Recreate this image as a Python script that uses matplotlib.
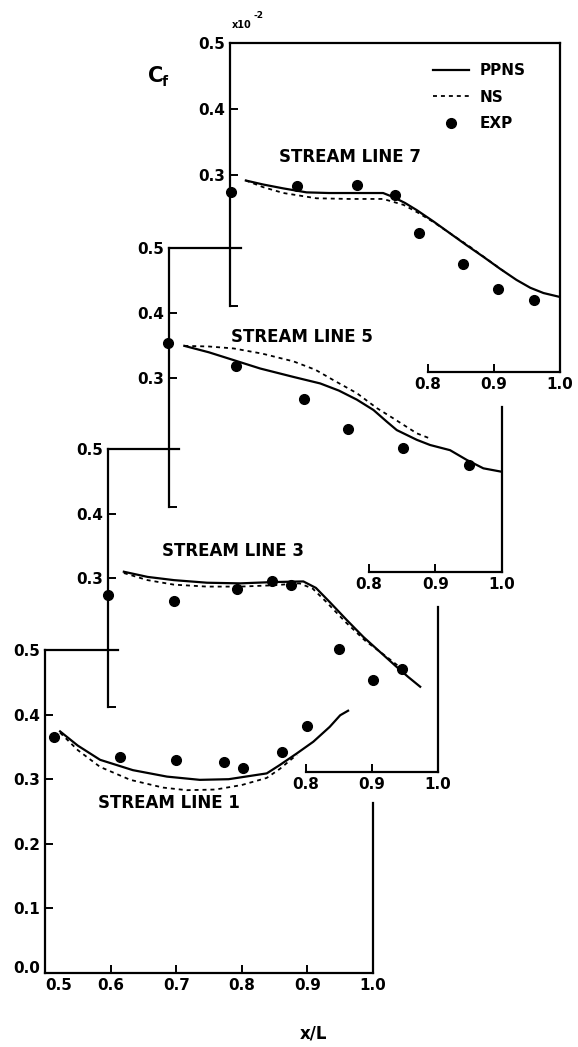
import matplotlib
matplotlib.use("Agg")
import matplotlib.pyplot as plt

# skin friction along four stream lines, Cf x 10^-2 against x/L
ppns1_x = [0.523, 0.55, 0.584, 0.634, 0.686, 0.736, 0.78, 0.838, 0.858, 0.884, 0.909, 0.934, 0.950, 0.962]
ppns1_y = [0.374, 0.352, 0.330, 0.314, 0.304, 0.299, 0.300, 0.309, 0.322, 0.340, 0.358, 0.381, 0.399, 0.406]
ns1_x = [0.523, 0.55, 0.584, 0.63, 0.68, 0.716, 0.76, 0.80, 0.838, 0.858, 0.884]
ns1_y = [0.372, 0.345, 0.319, 0.299, 0.287, 0.283, 0.284, 0.291, 0.302, 0.316, 0.338]
exp1_x = [0.513, 0.614, 0.699, 0.773, 0.802, 0.861, 0.899]
exp1_y = [0.366, 0.334, 0.330, 0.326, 0.318, 0.342, 0.382]

ppns3_x = [0.524, 0.56, 0.60, 0.65, 0.70, 0.75, 0.796, 0.815, 0.836, 0.862, 0.887, 0.912, 0.937, 0.955, 0.973]
ppns3_y = [0.310, 0.302, 0.297, 0.293, 0.292, 0.294, 0.295, 0.285, 0.263, 0.235, 0.209, 0.186, 0.163, 0.147, 0.132]
ns3_x = [0.524, 0.56, 0.60, 0.65, 0.70, 0.75, 0.79, 0.81, 0.83, 0.86, 0.89, 0.92, 0.945]
ns3_y = [0.308, 0.297, 0.290, 0.287, 0.287, 0.289, 0.292, 0.284, 0.264, 0.232, 0.203, 0.180, 0.160]
exp3_x = [0.500, 0.600, 0.695, 0.748, 0.777, 0.850, 0.902, 0.945]
exp3_y = [0.274, 0.264, 0.283, 0.295, 0.289, 0.190, 0.143, 0.159]

ppns5_x = [0.523, 0.56, 0.597, 0.637, 0.687, 0.727, 0.755, 0.782, 0.807, 0.827, 0.842, 0.872, 0.892, 0.922, 0.947, 0.972, 0.998]
ppns5_y = [0.349, 0.339, 0.327, 0.314, 0.301, 0.291, 0.280, 0.266, 0.250, 0.232, 0.219, 0.204, 0.196, 0.188, 0.173, 0.160, 0.155]
ns5_x = [0.523, 0.56, 0.597, 0.64, 0.687, 0.72, 0.747, 0.782, 0.812, 0.837, 0.872, 0.892]
ns5_y = [0.349, 0.348, 0.345, 0.337, 0.325, 0.312, 0.296, 0.276, 0.253, 0.237, 0.214, 0.206]
exp5_x = [0.499, 0.600, 0.702, 0.769, 0.852, 0.950]
exp5_y = [0.353, 0.318, 0.267, 0.221, 0.192, 0.165]

ppns7_x = [0.524, 0.55, 0.581, 0.616, 0.65, 0.682, 0.732, 0.747, 0.765, 0.783, 0.808, 0.833, 0.858, 0.884, 0.909, 0.934, 0.955, 0.975, 1.0]
ppns7_y = [0.291, 0.285, 0.279, 0.273, 0.272, 0.272, 0.272, 0.266, 0.257, 0.246, 0.229, 0.211, 0.193, 0.175, 0.157, 0.140, 0.128, 0.120, 0.114]
ns7_x = [0.524, 0.55, 0.581, 0.631, 0.68, 0.732, 0.763, 0.785, 0.808, 0.836, 0.864, 0.89, 0.915]
ns7_y = [0.291, 0.281, 0.272, 0.264, 0.263, 0.263, 0.254, 0.242, 0.228, 0.209, 0.190, 0.171, 0.153]
exp7_x = [0.501, 0.601, 0.693, 0.750, 0.787, 0.853, 0.906, 0.961]
exp7_y = [0.274, 0.282, 0.284, 0.269, 0.211, 0.164, 0.126, 0.109]

front_xticks = [0.5, 0.6, 0.7, 0.8, 0.9, 1.0]
front_yticks = [0.0, 0.1, 0.2, 0.3, 0.4, 0.5]
back_xticks = [0.8, 0.9, 1.0]
back_yticks = [0.1, 0.3, 0.4, 0.5]
back_ylabels = ['', '0.3', '0.4', '0.5']

plt.rcParams['font.family'] = 'DejaVu Sans'
plt.rcParams['font.weight'] = 'bold'

W, H = 578, 1047
fig = plt.figure(figsize=(W / 100, H / 100), dpi=100)


def panel(x0, x1, ybot, ytop):
    ax = fig.add_axes([x0 / W, 1 - ybot / H, (x1 - x0) / W, (ybot - ytop) / H])
    ax.set_xlim(0.5, 1.0)
    ax.set_ylim(0.0, 0.5)
    ax.patch.set_visible(False)
    for sp in ax.spines.values():
        sp.set_linewidth(1.6)
        sp.set_capstyle('projecting')
    ax.tick_params(direction='in', length=6, width=1.4, labelsize=11, pad=3.5,
                   top=False, right=False)
    return ax


def staggered(ax, top_full=False):
    ax.spines['left'].set_bounds(0.1, 0.5)
    ax.spines['bottom'].set_bounds(0.8, 1.0)
    if not top_full:
        ax.spines['top'].set_bounds(0.5, 0.608)
        ax.spines['right'].set_bounds(0.0, 0.255)
    ax.set_xticks(back_xticks, ['0.8', '0.9', '1.0'])
    ax.set_yticks(back_yticks, back_ylabels)


def curves(ax, px, py, nx, ny, ex, ey):
    l1, = ax.plot(px, py, color='black', lw=1.6)
    l2, = ax.plot(nx, ny, color='black', lw=1.3, ls=(0, (2.2, 2.2)))
    l3, = ax.plot(ex, ey, 'o', color='black', ms=7, clip_on=False)
    return l1, l2, l3


ax1 = panel(45, 373, 973, 650)
ax1.spines['top'].set_bounds(0.5, 0.611)
ax1.spines['right'].set_bounds(0.0, 0.263)
ax1.set_xticks(front_xticks, ['%.1f' % v for v in front_xticks])
ax1.set_yticks(front_yticks, ['%.1f' % v for v in front_yticks])
ax1.get_xticklabels()[0].set_ha('left')
ax1.get_yticklabels()[0].set_va('baseline')
curves(ax1, ppns1_x, ppns1_y, ns1_x, ns1_y, exp1_x, exp1_y)
ax1.text(0.689, 0.263, 'STREAM LINE 1', ha='center', va='center', fontsize=12)

ax3 = panel(108, 438, 772, 449)
staggered(ax3)
curves(ax3, ppns3_x, ppns3_y, ns3_x, ns3_y, exp3_x, exp3_y)
ax3.text(0.689, 0.342, 'STREAM LINE 3', ha='center', va='center', fontsize=12)

ax5 = panel(169, 502, 572, 248)
staggered(ax5)
curves(ax5, ppns5_x, ppns5_y, ns5_x, ns5_y, exp5_x, exp5_y)
ax5.text(0.700, 0.363, 'STREAM LINE 5', ha='center', va='center', fontsize=12)

ax7 = panel(230, 560, 372, 43)
staggered(ax7, top_full=True)
handles = curves(ax7, ppns7_x, ppns7_y, ns7_x, ns7_y, exp7_x, exp7_y)
ax7.text(0.682, 0.327, 'STREAM LINE 7', ha='center', va='center', fontsize=12)
ax7.legend(handles, ['PPNS', 'NS', 'EXP'], loc='upper right', bbox_to_anchor=(0.918, 0.962),
           frameon=False, fontsize=11, handlelength=2.4, handletextpad=0.65,
           labelspacing=0.75, borderpad=0, numpoints=1)

# axis titles and scale factor
fig.text(156 / W, 1 - 75.5 / H, 'C', fontsize=15, ha='center', va='center')
fig.text(162 / W, 1 - 86 / H, 'f', fontsize=10, ha='left', va='baseline')
fig.text(232 / W, 1 - 28 / H, 'x10', fontsize=7, ha='left', va='baseline')
fig.text(254 / W, 1 - 18 / H, '-2', fontsize=6.5, ha='left', va='baseline')
fig.text(313 / W, 1 - 1033 / H, 'x/L', fontsize=12, ha='center', va='center')

fig.savefig('out.png', dpi=100)
